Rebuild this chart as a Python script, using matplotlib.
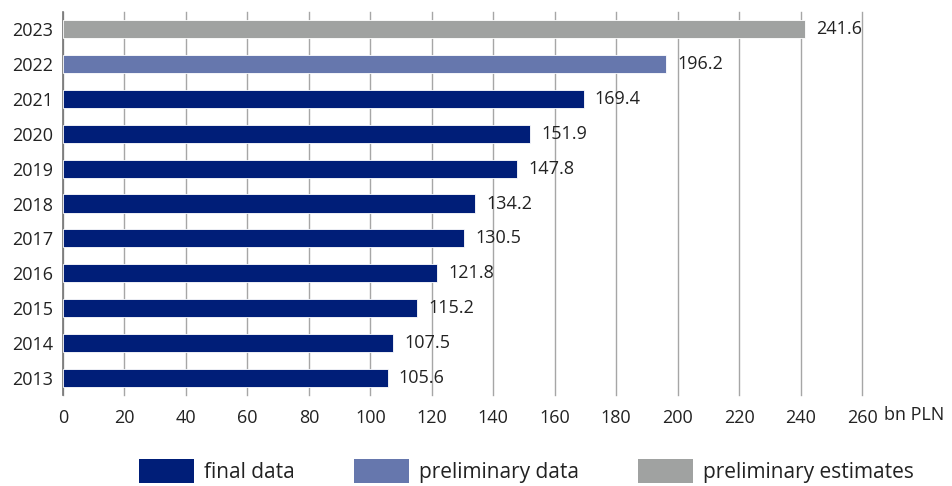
import matplotlib
matplotlib.use('Agg')
import matplotlib.pyplot as plt
from matplotlib.patches import Patch
from matplotlib.transforms import offset_copy

years = ['2013', '2014', '2015', '2016', '2017', '2018', '2019', '2020', '2021', '2022', '2023']
values = [105.6, 107.5, 115.2, 121.8, 130.5, 134.2, 147.8, 151.9, 169.4, 196.2, 241.6]
kinds = ['final'] * 9 + ['prelim', 'estimate']
x_ticks = list(range(0, 261, 20))

C_FINAL = '#001E78'
C_PRELIM = '#6677AD'
C_EST = '#A0A2A1'
colors = {'final': C_FINAL, 'prelim': C_PRELIM, 'estimate': C_EST}
TXT = '#222222'
FS = 13

plt.rcParams['font.family'] = ['Open Sans', 'DejaVu Sans']

fig = plt.figure(figsize=(9.52, 4.86), dpi=100)
ax = fig.add_axes([63 / 952, 1 - 395 / 486, 799 / 952, 383 / 486])

pos = list(range(len(years)))
ax.barh(pos, values, height=0.52, color=[colors[k] for k in kinds],
        edgecolor='white', linewidth=0.6, zorder=3)

for p, v in zip(pos, values):
    ax.annotate(f'{v:.1f}', xy=(v, p), xytext=(8, 0), textcoords='offset points',
                ha='left', va='center', fontsize=FS, color=TXT, zorder=4)

ax.set_xlim(0, 260)
ax.set_ylim(-0.5, 10.5)
ax.set_xticks(x_ticks)
ax.set_xticklabels([str(t) for t in x_ticks], fontsize=FS, color=TXT)
ax.set_yticks(pos)
ax.set_yticklabels(years, fontsize=FS, color=TXT)
ax.tick_params(axis='both', length=0, pad=7)
ax.tick_params(axis='x', pad=10)

ax.grid(axis='x', color='#A6A6A6', linewidth=1.0, zorder=0)
for gl in ax.get_xgridlines():
    gl.set_clip_on(False)
ax.set_axisbelow(True)
for s in ['top', 'right', 'bottom']:
    ax.spines[s].set_visible(False)
ax.spines['left'].set_color('#777777')
ax.spines['left'].set_linewidth(1.2)

# unit label right after the last tick label
ax.text(1.0, 0, 'bn PLN', transform=offset_copy(ax.transAxes, fig=fig, x=22, y=-20, units='dots'),
        ha='left', va='center', fontsize=FS, color=TXT)

handles = [Patch(facecolor=C_FINAL, label='final data'),
           Patch(facecolor=C_PRELIM, label='preliminary data'),
           Patch(facecolor=C_EST, label='preliminary estimates')]
fig.legend(handles=handles, loc='lower center', bbox_to_anchor=(0.553, -0.033), ncol=3,
           frameon=False, fontsize=15, handlelength=2.65, handleheight=1.4,
           columnspacing=2.8, handletextpad=0.5, labelcolor=TXT)

fig.savefig('out.png', dpi=100, facecolor='white')
